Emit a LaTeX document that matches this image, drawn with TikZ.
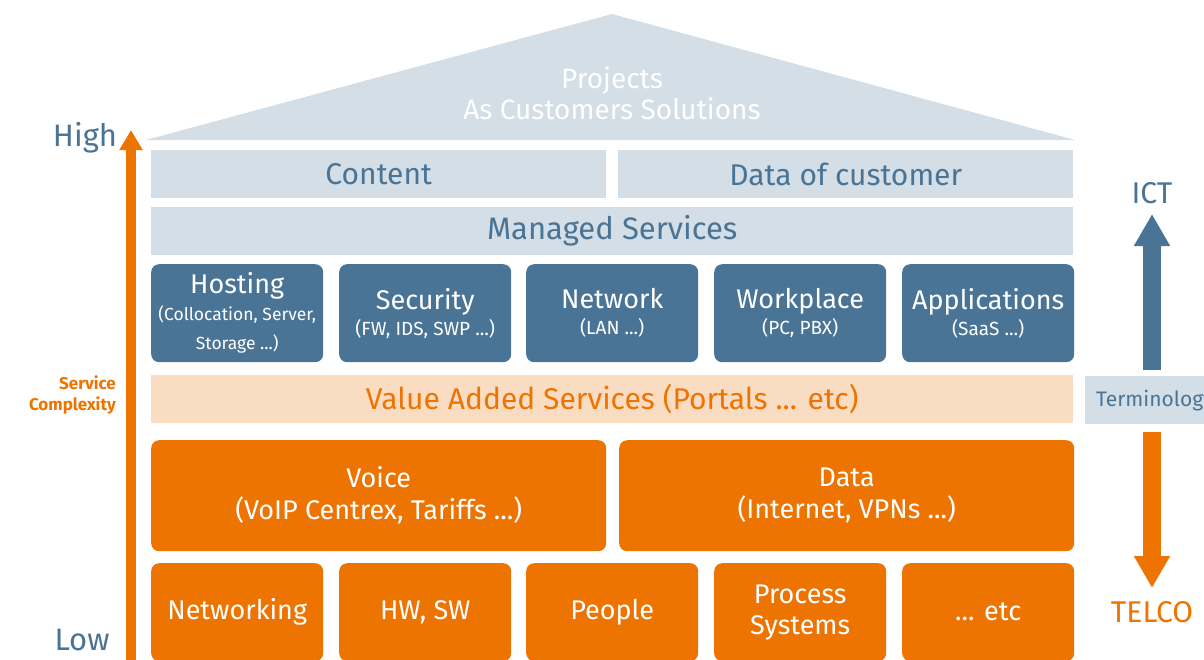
\documentclass[tikz,border=0pt]{standalone}
\usepackage{fontspec}
\setmainfont{Fira Sans}
\usetikzlibrary{arrows.meta,positioning}
\definecolor{palegrey}{HTML}{D3DEE6}
\definecolor{steel}{HTML}{4A7495}
\definecolor{telco}{HTML}{EE7402}
\definecolor{peach}{HTML}{FADCC2}
\newcommand{\subtext}{\fontsize{19}{22}\selectfont}
\begin{document}
\begin{tikzpicture}[x=1pt,y=-1pt]
		\tikzstyle{pale}=[fill=palegrey, text=steel, inner sep=0pt, anchor=north west, minimum height=48pt, font=\fontsize{30}{32}\selectfont]
		\tikzstyle{svc}=[fill=steel, text=white, rounded corners=8pt, anchor=north west, minimum width=172pt, minimum height=98pt, inner sep=0pt, align=center, font=\fontsize{27}{30}\selectfont]
		\tikzstyle{base}=[svc, fill=telco, font=\fontsize{27}{31}\selectfont]
		\tikzstyle{big}=[base, minimum width=455pt, minimum height=111pt, font=\fontsize{27}{32}\selectfont]
		\useasboundingbox (0,0) rectangle (1204,659);

		% roof
		\fill[palegrey] (146,140) -- (612,14) -- (1075,140) -- cycle;
		\node[text=white, align=center, font=\fontsize{28}{31}\selectfont] (roof) at (612,93) {Projects\\As Customers Solutions};

		\begin{scope}
			\node[pale, minimum width=455pt] (content) at (151,150) {Content};
			\node[pale, minimum width=455pt] (custdata) at (618,150) {Data of customer};
			\node[pale, minimum width=922pt, font=\fontsize{31}{32}\selectfont] (managed) at (151,207) {Managed Services};
		\end{scope}

		\begin{scope}
			\node[svc] (host) at (151,264) {Hosting\\[-3pt]\fontsize{17.5}{21}\selectfont(Collocation, Server,\\[-1pt]\fontsize{17.5}{21}\selectfont Storage ...)};
			\node[svc] (sec) at (339,264) {Security\\[-4pt]\subtext(FW, IDS, SWP ...)};
			\node[svc] (net) at (526,264) {Network\\[-4pt]\subtext(LAN ...)};
			\node[svc] (work) at (714,264) {Workplace\\[-4pt]\subtext(PC, PBX)};
			\node[svc] (apps) at (902,264) {Applications\\[-4pt]\subtext(SaaS ...)};
		\end{scope}

		\node[pale, fill=peach, text=telco, minimum width=922pt] (vas) at (151,375) {Value Added Services (Portals ... etc)};

		\begin{scope}
			\node[big] (voice) at (151,440) {Voice\\(VoIP Centrex, Tariffs ...)};
			\node[big] (data) at (619,440) {Data\\(Internet, VPNs ...)};
		\end{scope}

		\begin{scope}
			\node[base] (networking) at (151,563) {Networking};
			\node[base] (hwsw) at (339,563) {HW, SW};
			\node[base] (people) at (526,563) {People};
			\node[base] (process) at (714,563) {Process\\Systems};
			\node[base] (etc) at (902,563) {... etc};
		\end{scope}

		% left scale
		\node[text=steel, font=\fontsize{31}{32}\selectfont] (high) at (85,138) {High};
		\node[text=steel, font=\fontsize{31}{32}\selectfont] (low) at (82,640) {Low};
		\node[text=telco, anchor=east, align=right, inner sep=0pt, font=\bfseries\fontsize{17}{21}\selectfont] (cplx) at (116,395) {Service\\Complexity};
		\coordinate (lowend) at (131,665);
		\coordinate (highend) at (131,130);
		\draw[telco, line width=10pt, -{Triangle[width=22pt,length=20pt]}] (lowend) -- (highend);

		% right scale
		\node[text=steel, font=\fontsize{30}{32}\selectfont] (ict) at (1152,193) {ICT};
		\node[text=telco, font=\fontsize{30}{32}\selectfont] (telcolbl) at (1152,612) {TELCO};
		\begin{scope}
			\clip (1085,370) rectangle (1204,430);
			\node[pale, inner xsep=11pt, font=\fontsize{21}{22}\selectfont] (term) at (1085,376) {Terminology};
		\end{scope}
		\coordinate (ictfoot) at (1152,370);
		\coordinate (icttip) at (1152,214);
		\coordinate (telcofoot) at (1152,432);
		\coordinate (telcotip) at (1152,588);
		\draw[steel, line width=18pt, -{Triangle[width=34pt,length=32pt]}] (ictfoot) -- (icttip);
		\draw[telco, line width=18pt, -{Triangle[width=34pt,length=32pt]}] (telcofoot) -- (telcotip);
	\end{tikzpicture}
\end{document}
